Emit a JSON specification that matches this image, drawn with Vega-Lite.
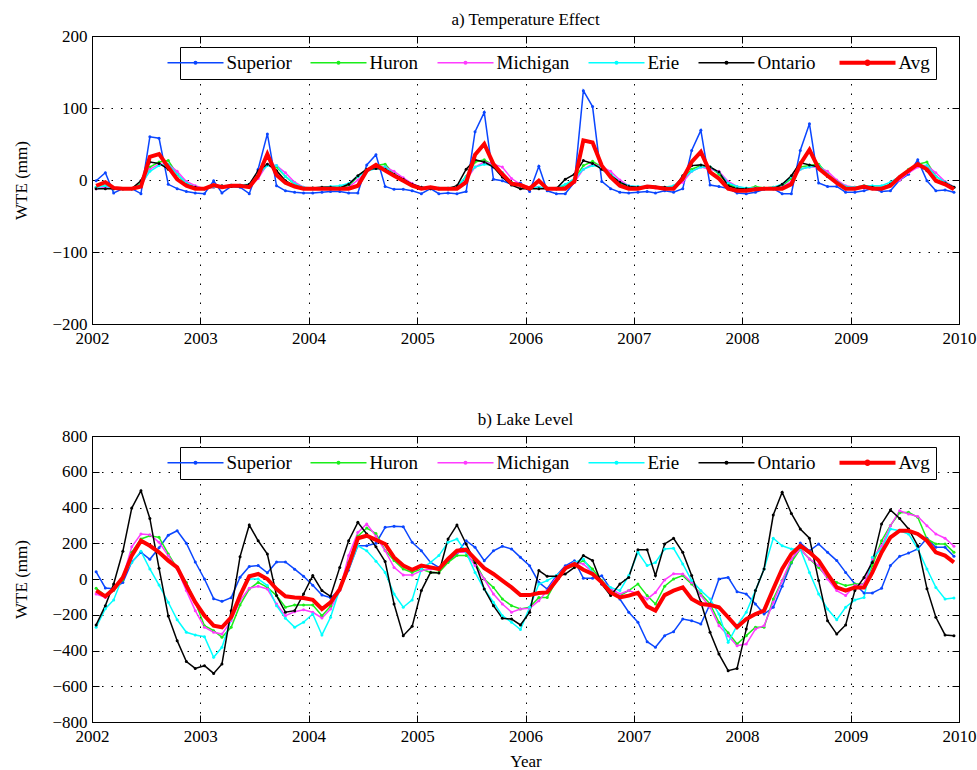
{
"$schema": "https://vega.github.io/schema/vega-lite/v6.json",
"background": "white",
"padding": {"left": 12, "top": 10, "right": 22, "bottom": 3},
"spacing": 63,
"datasets": {
"temp": [
{"d":"2002-01-15","Superior":-1,"Huron":-10,"Michigan":-12,"Erie":-10,"Ontario":-12,"Avg":-8},
{"d":"2002-02-15","Superior":10,"Huron":-8,"Michigan":-10,"Erie":-8,"Ontario":-12,"Avg":-3},
{"d":"2002-03-15","Superior":-18,"Huron":-12,"Michigan":-12,"Erie":-12,"Ontario":-12,"Avg":-11},
{"d":"2002-04-15","Superior":-12,"Huron":-12,"Michigan":-12,"Erie":-12,"Ontario":-12,"Avg":-12},
{"d":"2002-05-15","Superior":-12,"Huron":-12,"Michigan":-12,"Erie":-12,"Ontario":-12,"Avg":-12},
{"d":"2002-06-15","Superior":-19,"Huron":-5,"Michigan":-9,"Erie":-6,"Ontario":-1,"Avg":-9},
{"d":"2002-07-15","Superior":60,"Huron":18,"Michigan":15,"Erie":12,"Ontario":25,"Avg":32},
{"d":"2002-08-15","Superior":58,"Huron":25,"Michigan":22,"Erie":20,"Ontario":23,"Avg":36},
{"d":"2002-09-15","Superior":-6,"Huron":27,"Michigan":22,"Erie":22,"Ontario":15,"Avg":18},
{"d":"2002-10-15","Superior":-12,"Huron":8,"Michigan":12,"Erie":8,"Ontario":2,"Avg":1},
{"d":"2002-11-15","Superior":-16,"Huron":-5,"Michigan":-2,"Erie":-4,"Ontario":-7,"Avg":-8},
{"d":"2002-12-15","Superior":-18,"Huron":-10,"Michigan":-8,"Erie":-10,"Ontario":-10,"Avg":-12},
{"d":"2003-01-15","Superior":-19,"Huron":-12,"Michigan":-12,"Erie":-12,"Ontario":-12,"Avg":-12},
{"d":"2003-02-15","Superior":-1,"Huron":-10,"Michigan":-10,"Erie":-9,"Ontario":-8,"Avg":-7},
{"d":"2003-03-15","Superior":-18,"Huron":-9,"Michigan":-10,"Erie":-9,"Ontario":-8,"Avg":-10},
{"d":"2003-04-15","Superior":-9,"Huron":-8,"Michigan":-8,"Erie":-7,"Ontario":-9,"Avg":-8},
{"d":"2003-05-15","Superior":-10,"Huron":-9,"Michigan":-8,"Erie":-7,"Ontario":-9,"Avg":-8},
{"d":"2003-06-15","Superior":-19,"Huron":-8,"Michigan":-10,"Erie":-6,"Ontario":-6,"Avg":-10},
{"d":"2003-07-15","Superior":15,"Huron":8,"Michigan":2,"Erie":8,"Ontario":13,"Avg":6},
{"d":"2003-08-15","Superior":64,"Huron":22,"Michigan":22,"Erie":20,"Ontario":22,"Avg":36},
{"d":"2003-09-15","Superior":-8,"Huron":18,"Michigan":20,"Erie":20,"Ontario":13,"Avg":7},
{"d":"2003-10-15","Superior":-15,"Huron":5,"Michigan":10,"Erie":5,"Ontario":-1,"Avg":-4},
{"d":"2003-11-15","Superior":-17,"Huron":-6,"Michigan":-3,"Erie":-5,"Ontario":-9,"Avg":-9},
{"d":"2003-12-15","Superior":-18,"Huron":-11,"Michigan":-10,"Erie":-10,"Ontario":-12,"Avg":-12},
{"d":"2004-01-15","Superior":-18,"Huron":-12,"Michigan":-12,"Erie":-11,"Ontario":-11,"Avg":-12},
{"d":"2004-02-15","Superior":-17,"Huron":-11,"Michigan":-12,"Erie":-10,"Ontario":-10,"Avg":-12},
{"d":"2004-03-15","Superior":-16,"Huron":-10,"Michigan":-11,"Erie":-9,"Ontario":-10,"Avg":-12},
{"d":"2004-04-15","Superior":-16,"Huron":-10,"Michigan":-11,"Erie":-8,"Ontario":-11,"Avg":-12},
{"d":"2004-05-15","Superior":-18,"Huron":-8,"Michigan":-10,"Erie":-5,"Ontario":-6,"Avg":-12},
{"d":"2004-06-15","Superior":-18,"Huron":5,"Michigan":0,"Erie":5,"Ontario":6,"Avg":-8},
{"d":"2004-07-15","Superior":21,"Huron":15,"Michigan":12,"Erie":12,"Ontario":15,"Avg":13},
{"d":"2004-08-15","Superior":35,"Huron":20,"Michigan":18,"Erie":16,"Ontario":16,"Avg":21},
{"d":"2004-09-15","Superior":-9,"Huron":22,"Michigan":18,"Erie":18,"Ontario":15,"Avg":13},
{"d":"2004-10-15","Superior":-13,"Huron":8,"Michigan":12,"Erie":8,"Ontario":8,"Avg":6},
{"d":"2004-11-15","Superior":-13,"Huron":0,"Michigan":3,"Erie":0,"Ontario":1,"Avg":-1},
{"d":"2004-12-15","Superior":-15,"Huron":-7,"Michigan":-5,"Erie":-7,"Ontario":-6,"Avg":-8},
{"d":"2005-01-15","Superior":-19,"Huron":-11,"Michigan":-10,"Erie":-10,"Ontario":-10,"Avg":-12},
{"d":"2005-02-15","Superior":-12,"Huron":-10,"Michigan":-11,"Erie":-11,"Ontario":-12,"Avg":-10},
{"d":"2005-03-15","Superior":-19,"Huron":-12,"Michigan":-12,"Erie":-11,"Ontario":-12,"Avg":-12},
{"d":"2005-04-15","Superior":-18,"Huron":-12,"Michigan":-12,"Erie":-11,"Ontario":-12,"Avg":-12},
{"d":"2005-05-15","Superior":-19,"Huron":-10,"Michigan":-10,"Erie":-9,"Ontario":-8,"Avg":-12},
{"d":"2005-06-15","Superior":-16,"Huron":5,"Michigan":0,"Erie":5,"Ontario":15,"Avg":-3},
{"d":"2005-07-15","Superior":67,"Huron":25,"Michigan":18,"Erie":18,"Ontario":28,"Avg":35},
{"d":"2005-08-15","Superior":94,"Huron":28,"Michigan":25,"Erie":22,"Ontario":25,"Avg":50},
{"d":"2005-09-15","Superior":1,"Huron":20,"Michigan":22,"Erie":20,"Ontario":18,"Avg":22},
{"d":"2005-10-15","Superior":-1,"Huron":10,"Michigan":18,"Erie":10,"Ontario":4,"Avg":8},
{"d":"2005-11-15","Superior":-6,"Huron":-3,"Michigan":2,"Erie":-4,"Ontario":-7,"Avg":-5},
{"d":"2005-12-15","Superior":-4,"Huron":-8,"Michigan":-6,"Erie":-8,"Ontario":-12,"Avg":-7},
{"d":"2006-01-15","Superior":-16,"Huron":-11,"Michigan":-10,"Erie":-11,"Ontario":-12,"Avg":-12},
{"d":"2006-02-15","Superior":19,"Huron":-10,"Michigan":-10,"Erie":-10,"Ontario":-12,"Avg":-1},
{"d":"2006-03-15","Superior":-15,"Huron":-12,"Michigan":-12,"Erie":-11,"Ontario":-12,"Avg":-12},
{"d":"2006-04-15","Superior":-19,"Huron":-12,"Michigan":-12,"Erie":-11,"Ontario":-12,"Avg":-12},
{"d":"2006-05-15","Superior":-19,"Huron":-8,"Michigan":-10,"Erie":-6,"Ontario":1,"Avg":-12},
{"d":"2006-06-15","Superior":-3,"Huron":2,"Michigan":-3,"Erie":2,"Ontario":8,"Avg":-2},
{"d":"2006-07-15","Superior":124,"Huron":20,"Michigan":15,"Erie":15,"Ontario":27,"Avg":55},
{"d":"2006-08-15","Superior":102,"Huron":26,"Michigan":22,"Erie":20,"Ontario":23,"Avg":52},
{"d":"2006-09-15","Superior":-2,"Huron":18,"Michigan":18,"Erie":18,"Ontario":15,"Avg":20},
{"d":"2006-10-15","Superior":-12,"Huron":8,"Michigan":12,"Erie":8,"Ontario":6,"Avg":4},
{"d":"2006-11-15","Superior":-17,"Huron":-4,"Michigan":0,"Erie":-3,"Ontario":-3,"Avg":-8},
{"d":"2006-12-15","Superior":-18,"Huron":-9,"Michigan":-8,"Erie":-8,"Ontario":-9,"Avg":-12},
{"d":"2007-01-15","Superior":-17,"Huron":-11,"Michigan":-10,"Erie":-9,"Ontario":-10,"Avg":-12},
{"d":"2007-02-15","Superior":-16,"Huron":-10,"Michigan":-10,"Erie":-9,"Ontario":-10,"Avg":-9},
{"d":"2007-03-15","Superior":-18,"Huron":-10,"Michigan":-11,"Erie":-9,"Ontario":-10,"Avg":-10},
{"d":"2007-04-15","Superior":-15,"Huron":-11,"Michigan":-11,"Erie":-10,"Ontario":-10,"Avg":-12},
{"d":"2007-05-15","Superior":-17,"Huron":-10,"Michigan":-10,"Erie":-8,"Ontario":-12,"Avg":-12},
{"d":"2007-06-15","Superior":-12,"Huron":0,"Michigan":-3,"Erie":2,"Ontario":6,"Avg":2},
{"d":"2007-07-15","Superior":41,"Huron":15,"Michigan":12,"Erie":12,"Ontario":20,"Avg":25},
{"d":"2007-08-15","Superior":69,"Huron":20,"Michigan":18,"Erie":18,"Ontario":21,"Avg":39},
{"d":"2007-09-15","Superior":-7,"Huron":18,"Michigan":15,"Erie":18,"Ontario":18,"Avg":11},
{"d":"2007-10-15","Superior":-9,"Huron":8,"Michigan":12,"Erie":10,"Ontario":11,"Avg":2},
{"d":"2007-11-15","Superior":-12,"Huron":-6,"Michigan":-2,"Erie":-4,"Ontario":-8,"Avg":-12},
{"d":"2007-12-15","Superior":-18,"Huron":-10,"Michigan":-9,"Erie":-9,"Ontario":-12,"Avg":-15},
{"d":"2008-01-15","Superior":-19,"Huron":-12,"Michigan":-12,"Erie":-11,"Ontario":-12,"Avg":-15},
{"d":"2008-02-15","Superior":-17,"Huron":-9,"Michigan":-11,"Erie":-11,"Ontario":-12,"Avg":-13},
{"d":"2008-03-15","Superior":-13,"Huron":-11,"Michigan":-12,"Erie":-11,"Ontario":-12,"Avg":-12},
{"d":"2008-04-15","Superior":-12,"Huron":-10,"Michigan":-11,"Erie":-10,"Ontario":-12,"Avg":-12},
{"d":"2008-05-15","Superior":-19,"Huron":-8,"Michigan":-10,"Erie":-6,"Ontario":-6,"Avg":-12},
{"d":"2008-06-15","Superior":-19,"Huron":2,"Michigan":-2,"Erie":4,"Ontario":6,"Avg":-6},
{"d":"2008-07-15","Superior":41,"Huron":18,"Michigan":15,"Erie":15,"Ontario":24,"Avg":22},
{"d":"2008-08-15","Superior":78,"Huron":20,"Michigan":18,"Erie":18,"Ontario":21,"Avg":42},
{"d":"2008-09-15","Superior":-4,"Huron":22,"Michigan":18,"Erie":20,"Ontario":18,"Avg":16},
{"d":"2008-10-15","Superior":-9,"Huron":8,"Michigan":12,"Erie":8,"Ontario":5,"Avg":6},
{"d":"2008-11-15","Superior":-9,"Huron":-2,"Michigan":0,"Erie":-2,"Ontario":-4,"Avg":-4},
{"d":"2008-12-15","Superior":-17,"Huron":-9,"Michigan":-8,"Erie":-9,"Ontario":-12,"Avg":-12},
{"d":"2009-01-15","Superior":-17,"Huron":-10,"Michigan":-10,"Erie":-10,"Ontario":-12,"Avg":-12},
{"d":"2009-02-15","Superior":-15,"Huron":-8,"Michigan":-11,"Erie":-8,"Ontario":-10,"Avg":-9},
{"d":"2009-03-15","Superior":-12,"Huron":-10,"Michigan":-11,"Erie":-8,"Ontario":-10,"Avg":-12},
{"d":"2009-04-15","Superior":-16,"Huron":-10,"Michigan":-10,"Erie":-8,"Ontario":-12,"Avg":-12},
{"d":"2009-05-15","Superior":-15,"Huron":-6,"Michigan":-8,"Erie":-3,"Ontario":-6,"Avg":-8},
{"d":"2009-06-15","Superior":0,"Huron":3,"Michigan":0,"Erie":5,"Ontario":4,"Avg":4},
{"d":"2009-07-15","Superior":8,"Huron":15,"Michigan":10,"Erie":14,"Ontario":13,"Avg":13},
{"d":"2009-08-15","Superior":28,"Huron":22,"Michigan":18,"Erie":20,"Ontario":22,"Avg":22},
{"d":"2009-09-15","Superior":-1,"Huron":25,"Michigan":20,"Erie":20,"Ontario":13,"Avg":15},
{"d":"2009-10-15","Superior":-15,"Huron":5,"Michigan":10,"Erie":5,"Ontario":-1,"Avg":-1},
{"d":"2009-11-15","Superior":-14,"Huron":-3,"Michigan":-2,"Erie":-3,"Ontario":-4,"Avg":-6},
{"d":"2009-12-15","Superior":-17,"Huron":-10,"Michigan":-10,"Erie":-10,"Ontario":-10,"Avg":-13}
],
"lake": [
{"d":"2002-01-15","Superior":40,"Huron":-52,"Michigan":-84,"Erie":-270,"Ontario":-257,"Avg":-65},
{"d":"2002-02-15","Superior":-50,"Huron":-93,"Michigan":-103,"Erie":-166,"Ontario":-149,"Avg":-97},
{"d":"2002-03-15","Superior":-55,"Huron":-65,"Michigan":-62,"Erie":-117,"Ontario":-28,"Avg":-56},
{"d":"2002-04-15","Superior":-20,"Huron":-5,"Michigan":9,"Erie":14,"Ontario":155,"Avg":9},
{"d":"2002-05-15","Superior":95,"Huron":149,"Michigan":180,"Erie":93,"Ontario":397,"Avg":131},
{"d":"2002-06-15","Superior":150,"Huron":224,"Michigan":252,"Erie":155,"Ontario":494,"Avg":214},
{"d":"2002-07-15","Superior":110,"Huron":242,"Michigan":248,"Erie":56,"Ontario":339,"Avg":186},
{"d":"2002-08-15","Superior":175,"Huron":233,"Michigan":205,"Erie":-34,"Ontario":60,"Avg":149},
{"d":"2002-09-15","Superior":245,"Huron":140,"Michigan":131,"Erie":-130,"Ontario":-207,"Avg":103},
{"d":"2002-10-15","Superior":270,"Huron":60,"Michigan":56,"Erie":-228,"Ontario":-345,"Avg":65},
{"d":"2002-11-15","Superior":200,"Huron":-19,"Michigan":-65,"Erie":-298,"Ontario":-462,"Avg":-37},
{"d":"2002-12-15","Superior":95,"Huron":-130,"Michigan":-177,"Erie":-313,"Ontario":-500,"Avg":-130},
{"d":"2003-01-15","Superior":0,"Huron":-261,"Michigan":-270,"Erie":-323,"Ontario":-485,"Avg":-205},
{"d":"2003-02-15","Superior":-110,"Huron":-289,"Michigan":-298,"Erie":-438,"Ontario":-528,"Avg":-261},
{"d":"2003-03-15","Superior":-125,"Huron":-326,"Michigan":-308,"Erie":-382,"Ontario":-475,"Avg":-270},
{"d":"2003-04-15","Superior":-105,"Huron":-270,"Michigan":-233,"Erie":-224,"Ontario":-177,"Avg":-214},
{"d":"2003-05-15","Superior":10,"Huron":-145,"Michigan":-121,"Erie":-84,"Ontario":125,"Avg":-93},
{"d":"2003-06-15","Superior":70,"Huron":-56,"Michigan":-52,"Erie":0,"Ontario":302,"Avg":15},
{"d":"2003-07-15","Superior":75,"Huron":-19,"Michigan":-41,"Erie":0,"Ontario":214,"Avg":28},
{"d":"2003-08-15","Superior":35,"Huron":-47,"Michigan":-56,"Erie":-37,"Ontario":140,"Avg":0},
{"d":"2003-09-15","Superior":95,"Huron":-93,"Michigan":-140,"Erie":-149,"Ontario":-93,"Avg":-56},
{"d":"2003-10-15","Superior":95,"Huron":-158,"Michigan":-205,"Erie":-220,"Ontario":-186,"Avg":-97},
{"d":"2003-11-15","Superior":55,"Huron":-145,"Michigan":-183,"Erie":-270,"Ontario":-177,"Avg":-103},
{"d":"2003-12-15","Superior":15,"Huron":-145,"Michigan":-172,"Erie":-242,"Ontario":-84,"Avg":-106},
{"d":"2004-01-15","Superior":-35,"Huron":-145,"Michigan":-186,"Erie":-196,"Ontario":19,"Avg":-116},
{"d":"2004-02-15","Superior":-90,"Huron":-205,"Michigan":-218,"Erie":-313,"Ontario":-65,"Avg":-168},
{"d":"2004-03-15","Superior":-105,"Huron":-153,"Michigan":-168,"Erie":-214,"Ontario":-97,"Avg":-131},
{"d":"2004-04-15","Superior":-60,"Huron":-65,"Michigan":-65,"Erie":-56,"Ontario":65,"Avg":-56},
{"d":"2004-05-15","Superior":50,"Huron":93,"Michigan":131,"Erie":56,"Ontario":214,"Avg":75},
{"d":"2004-06-15","Superior":186,"Huron":240,"Michigan":261,"Erie":186,"Ontario":317,"Avg":228},
{"d":"2004-07-15","Superior":186,"Huron":285,"Michigan":308,"Erie":158,"Ontario":252,"Avg":242},
{"d":"2004-08-15","Superior":200,"Huron":255,"Michigan":240,"Erie":100,"Ontario":180,"Avg":219},
{"d":"2004-09-15","Superior":289,"Huron":160,"Michigan":158,"Erie":37,"Ontario":98,"Avg":196},
{"d":"2004-10-15","Superior":295,"Huron":103,"Michigan":65,"Erie":-84,"Ontario":-140,"Avg":121},
{"d":"2004-11-15","Superior":293,"Huron":56,"Michigan":22,"Erie":-158,"Ontario":-317,"Avg":75},
{"d":"2004-12-15","Superior":205,"Huron":37,"Michigan":22,"Erie":-117,"Ontario":-265,"Avg":52},
{"d":"2005-01-15","Superior":158,"Huron":56,"Michigan":47,"Erie":56,"Ontario":-65,"Avg":75},
{"d":"2005-02-15","Superior":93,"Huron":37,"Michigan":56,"Erie":93,"Ontario":37,"Avg":65},
{"d":"2005-03-15","Superior":65,"Huron":37,"Michigan":56,"Erie":131,"Ontario":34,"Avg":56},
{"d":"2005-04-15","Superior":100,"Huron":93,"Michigan":112,"Erie":205,"Ontario":224,"Avg":112},
{"d":"2005-05-15","Superior":144,"Huron":131,"Michigan":149,"Erie":224,"Ontario":302,"Avg":158},
{"d":"2005-06-15","Superior":214,"Huron":131,"Michigan":149,"Erie":149,"Ontario":196,"Avg":164},
{"d":"2005-07-15","Superior":177,"Huron":93,"Michigan":75,"Erie":37,"Ontario":93,"Avg":112},
{"d":"2005-08-15","Superior":102,"Huron":0,"Michigan":0,"Erie":-56,"Ontario":-56,"Avg":60},
{"d":"2005-09-15","Superior":158,"Huron":-47,"Michigan":-84,"Erie":-130,"Ontario":-149,"Avg":28},
{"d":"2005-10-15","Superior":183,"Huron":-112,"Michigan":-140,"Erie":-205,"Ontario":-220,"Avg":-9},
{"d":"2005-11-15","Superior":168,"Huron":-149,"Michigan":-186,"Erie":-242,"Ontario":-224,"Avg":-47},
{"d":"2005-12-15","Superior":121,"Huron":-168,"Michigan":-168,"Erie":-283,"Ontario":-257,"Avg":-90},
{"d":"2006-01-15","Superior":74,"Huron":-158,"Michigan":-164,"Erie":-158,"Ontario":-186,"Avg":-90},
{"d":"2006-02-15","Superior":-19,"Huron":-103,"Michigan":-121,"Erie":-28,"Ontario":47,"Avg":-78},
{"d":"2006-03-15","Superior":-56,"Huron":-103,"Michigan":-65,"Erie":-9,"Ontario":15,"Avg":-75},
{"d":"2006-04-15","Superior":18,"Huron":-9,"Michigan":9,"Erie":19,"Ontario":15,"Avg":-9},
{"d":"2006-05-15","Superior":74,"Huron":56,"Michigan":65,"Erie":56,"Ontario":28,"Avg":60},
{"d":"2006-06-15","Superior":102,"Huron":75,"Michigan":93,"Erie":93,"Ontario":65,"Avg":84},
{"d":"2006-07-15","Superior":4,"Huron":103,"Michigan":84,"Erie":112,"Ontario":131,"Avg":52},
{"d":"2006-08-15","Superior":4,"Huron":56,"Michigan":37,"Erie":37,"Ontario":103,"Avg":28},
{"d":"2006-09-15","Superior":18,"Huron":-9,"Michigan":-28,"Erie":-19,"Ontario":-28,"Avg":-19},
{"d":"2006-10-15","Superior":-56,"Huron":-65,"Michigan":-56,"Erie":-47,"Ontario":-93,"Avg":-75},
{"d":"2006-11-15","Superior":-112,"Huron":-93,"Michigan":-84,"Erie":-65,"Ontario":-28,"Avg":-103},
{"d":"2006-12-15","Superior":-186,"Huron":-65,"Michigan":-65,"Erie":19,"Ontario":9,"Avg":-93},
{"d":"2007-01-15","Superior":-242,"Huron":-28,"Michigan":-84,"Erie":149,"Ontario":164,"Avg":-78},
{"d":"2007-02-15","Superior":-351,"Huron":-93,"Michigan":-112,"Erie":75,"Ontario":164,"Avg":-153},
{"d":"2007-03-15","Superior":-382,"Huron":-140,"Michigan":-75,"Erie":93,"Ontario":19,"Avg":-177},
{"d":"2007-04-15","Superior":-317,"Huron":-40,"Michigan":-5,"Erie":168,"Ontario":196,"Avg":-90},
{"d":"2007-05-15","Superior":-295,"Huron":0,"Michigan":30,"Erie":172,"Ontario":228,"Avg":-65},
{"d":"2007-06-15","Superior":-224,"Huron":19,"Michigan":28,"Erie":84,"Ontario":149,"Avg":-47},
{"d":"2007-07-15","Superior":-233,"Huron":-28,"Michigan":-19,"Erie":-9,"Ontario":19,"Avg":-112},
{"d":"2007-08-15","Superior":-252,"Huron":-84,"Michigan":-93,"Erie":-65,"Ontario":-130,"Avg":-140},
{"d":"2007-09-15","Superior":-140,"Huron":-140,"Michigan":-158,"Erie":-112,"Ontario":-298,"Avg":-145},
{"d":"2007-10-15","Superior":0,"Huron":-242,"Michigan":-261,"Erie":-196,"Ontario":-420,"Avg":-158},
{"d":"2007-11-15","Superior":9,"Huron":-300,"Michigan":-317,"Erie":-354,"Ontario":-513,"Avg":-214},
{"d":"2007-12-15","Superior":-71,"Huron":-364,"Michigan":-373,"Erie":-261,"Ontario":-500,"Avg":-270},
{"d":"2008-01-15","Superior":-84,"Huron":-317,"Michigan":-364,"Erie":-186,"Ontario":-280,"Avg":-224},
{"d":"2008-02-15","Superior":-140,"Huron":-270,"Michigan":-280,"Erie":-65,"Ontario":-65,"Avg":-196},
{"d":"2008-03-15","Superior":-196,"Huron":-270,"Michigan":-261,"Erie":56,"Ontario":56,"Avg":-177},
{"d":"2008-04-15","Superior":-158,"Huron":-112,"Michigan":-130,"Erie":228,"Ontario":358,"Avg":-56},
{"d":"2008-05-15","Superior":-40,"Huron":-9,"Michigan":-10,"Erie":186,"Ontario":485,"Avg":56},
{"d":"2008-06-15","Superior":90,"Huron":93,"Michigan":112,"Erie":168,"Ontario":367,"Avg":140},
{"d":"2008-07-15","Superior":201,"Huron":168,"Michigan":168,"Erie":168,"Ontario":280,"Avg":186},
{"d":"2008-08-15","Superior":158,"Huron":112,"Michigan":112,"Erie":37,"Ontario":228,"Avg":149},
{"d":"2008-09-15","Superior":196,"Huron":65,"Michigan":75,"Erie":-84,"Ontario":-9,"Avg":103},
{"d":"2008-10-15","Superior":149,"Huron":9,"Michigan":0,"Erie":-168,"Ontario":-233,"Avg":28},
{"d":"2008-11-15","Superior":103,"Huron":-19,"Michigan":-65,"Erie":-228,"Ontario":-308,"Avg":-47},
{"d":"2008-12-15","Superior":37,"Huron":-37,"Michigan":-93,"Erie":-158,"Ontario":-257,"Avg":-65},
{"d":"2009-01-15","Superior":-28,"Huron":-28,"Michigan":-37,"Erie":-117,"Ontario":-65,"Avg":-47},
{"d":"2009-02-15","Superior":-78,"Huron":-28,"Michigan":-28,"Erie":-103,"Ontario":9,"Avg":-47},
{"d":"2009-03-15","Superior":-78,"Huron":75,"Michigan":112,"Erie":121,"Ontario":93,"Avg":37},
{"d":"2009-04-15","Superior":-52,"Huron":214,"Michigan":186,"Erie":168,"Ontario":308,"Avg":149},
{"d":"2009-05-15","Superior":75,"Huron":300,"Michigan":298,"Erie":280,"Ontario":386,"Avg":233},
{"d":"2009-06-15","Superior":127,"Huron":370,"Michigan":382,"Erie":270,"Ontario":339,"Avg":270},
{"d":"2009-07-15","Superior":145,"Huron":373,"Michigan":364,"Erie":252,"Ontario":280,"Avg":270},
{"d":"2009-08-15","Superior":168,"Huron":345,"Michigan":350,"Erie":168,"Ontario":186,"Avg":252},
{"d":"2009-09-15","Superior":228,"Huron":224,"Michigan":298,"Erie":56,"Ontario":-54,"Avg":214},
{"d":"2009-10-15","Superior":177,"Huron":196,"Michigan":252,"Erie":-47,"Ontario":-214,"Avg":149},
{"d":"2009-11-15","Superior":177,"Huron":196,"Michigan":228,"Erie":-112,"Ontario":-313,"Avg":131},
{"d":"2009-12-15","Superior":127,"Huron":149,"Michigan":183,"Erie":-106,"Ontario":-317,"Avg":93}
]
},
"config": {
"font": "Liberation Serif",
"view": {"stroke": "black", "strokeWidth": 1},
"title": {"font": "Liberation Serif", "fontSize": 17, "fontWeight": "normal", "color": "black", "offset": -2},
"axis": {"labelFont": "Liberation Serif", "labelFontSize": 17, "labelColor": "black", "titleFont": "Liberation Serif", "titleFontSize": 17, "titleFontWeight": "normal", "titleColor": "black", "domainColor": "black", "domainWidth": 1, "tickColor": "black", "tickSize": -7, "tickWidth": 1, "gridColor": "black", "gridOpacity": 1, "gridDash": [1.5, 8], "gridWidth": 1, "labelFlush": false, "labelOverlap": false},
"axisX": {"labelPadding": 13},
"axisY": {"labelPadding": 12},
"legend": {"title": null, "orient": "none", "legendX": 88, "legendY": 11, "direction": "horizontal", "columns": 6, "symbolType": "M-1,0H1M-0.045,0A0.045,0.045,0,1,0,0.045,0A0.045,0.045,0,1,0,-0.045,0Z", "symbolSize": 3136, "symbolStrokeWidth": 1.5, "symbolOffset": 0, "labelFontSize": 19, "labelFont": "Liberation Serif", "labelColor": "black", "labelOffset": 21.5, "columnPadding": 15, "padding": 6, "strokeColor": "black", "fillColor": "white"}
},
"resolve": {"legend": {"color": "independent"}},
"vconcat": [
{
"title": "a) Temperature Effect",
"width": 867, "height": 288,
"data": {"name": "temp"},
"transform": [{"fold": ["Superior","Huron","Michigan","Erie","Ontario","Avg"], "as": ["lake","wte"]}],
"layer": [
{"transform": [{"filter": "datum.lake !== 'Avg'"}],
"mark": {"type": "line", "strokeWidth": 1.5},
"encoding": {
"x": {"field": "d", "type": "temporal", "scale": {"type": "utc", "domain": [{"year":2002,"month":1,"date":1,"utc":true},{"year":2010,"month":1,"date":1,"utc":true}]}, "axis": {"orient": "bottom", "title": null, "format": "%Y", "grid": true, "values": [{"year":2002,"month":1,"date":1,"utc":true},{"year":2003,"month":1,"date":1,"utc":true},{"year":2004,"month":1,"date":1,"utc":true},{"year":2005,"month":1,"date":1,"utc":true},{"year":2006,"month":1,"date":1,"utc":true},{"year":2007,"month":1,"date":1,"utc":true},{"year":2008,"month":1,"date":1,"utc":true},{"year":2009,"month":1,"date":1,"utc":true},{"year":2010,"month":1,"date":1,"utc":true}]}},
"y": {"field": "wte", "type": "quantitative", "scale": {"domain": [-200, 200], "nice": false}, "axis": {"orient": "left", "title": "WTE (mm)", "values": [-200,-100,0,100,200], "grid": true, "titlePadding": 21}},
"color": {"field": "lake", "type": "nominal", "scale": {"domain": ["Superior","Huron","Michigan","Erie","Ontario","Avg"], "range": ["#0a46ff","#1aee1a","#ff3cff","#00ffff","#000000","#ff0000"]},
"legend": {"encode": {"symbols": {"update": {"fill": {"signal": "datum.value === 'Superior' ? '#0a46ff' : datum.value === 'Huron' ? '#1aee1a' : datum.value === 'Michigan' ? '#ff3cff' : datum.value === 'Erie' ? '#00ffff' : datum.value === 'Ontario' ? '#000000' : '#ff0000'"}, "strokeWidth": {"signal": "datum.value === 'Avg' ? 4 : 1.5"}, "opacity": {"value": 1}}}}}}
}},
{"transform": [{"filter": "datum.lake !== 'Avg'"}],
"mark": {"type": "point", "filled": true, "size": 9, "opacity": 1},
"encoding": {
"x": {"field": "d", "type": "temporal", "axis": {"orient": "top", "title": null, "labels": false, "grid": false, "domain": false, "values": [{"year":2003,"month":1,"date":1,"utc":true},{"year":2004,"month":1,"date":1,"utc":true},{"year":2005,"month":1,"date":1,"utc":true},{"year":2006,"month":1,"date":1,"utc":true},{"year":2007,"month":1,"date":1,"utc":true},{"year":2008,"month":1,"date":1,"utc":true},{"year":2009,"month":1,"date":1,"utc":true}]}},
"y": {"field": "wte", "type": "quantitative", "axis": {"orient": "right", "title": null, "labels": false, "grid": false, "domain": false, "values": [-100,0,100]}},
"color": {"field": "lake", "type": "nominal"}
}},
{"transform": [{"filter": "datum.lake === 'Avg'"}],
"mark": {"type": "line", "strokeWidth": 4},
"encoding": {
"x": {"field": "d", "type": "temporal", "axis": null},
"y": {"field": "wte", "type": "quantitative", "axis": null},
"color": {"field": "lake", "type": "nominal"}
}}
],
"resolve": {"axis": {"x": "independent", "y": "independent"}}
},
{
"title": "b) Lake Level",
"width": 867, "height": 286,
"data": {"name": "lake"},
"transform": [{"fold": ["Superior","Huron","Michigan","Erie","Ontario","Avg"], "as": ["lake","wte"]}],
"layer": [
{"transform": [{"filter": "datum.lake !== 'Avg'"}],
"mark": {"type": "line", "strokeWidth": 1.5},
"encoding": {
"x": {"field": "d", "type": "temporal", "scale": {"type": "utc", "domain": [{"year":2002,"month":1,"date":1,"utc":true},{"year":2010,"month":1,"date":1,"utc":true}]}, "axis": {"orient": "bottom", "title": "Year", "titlePadding": 9, "format": "%Y", "grid": true, "values": [{"year":2002,"month":1,"date":1,"utc":true},{"year":2003,"month":1,"date":1,"utc":true},{"year":2004,"month":1,"date":1,"utc":true},{"year":2005,"month":1,"date":1,"utc":true},{"year":2006,"month":1,"date":1,"utc":true},{"year":2007,"month":1,"date":1,"utc":true},{"year":2008,"month":1,"date":1,"utc":true},{"year":2009,"month":1,"date":1,"utc":true},{"year":2010,"month":1,"date":1,"utc":true}]}},
"y": {"field": "wte", "type": "quantitative", "scale": {"domain": [-800, 800], "nice": false}, "axis": {"orient": "left", "title": "WTE (mm)", "values": [-800,-600,-400,-200,0,200,400,600,800], "grid": true, "titlePadding": 21}},
"color": {"field": "lake", "type": "nominal", "scale": {"domain": ["Superior","Huron","Michigan","Erie","Ontario","Avg"], "range": ["#0a46ff","#1aee1a","#ff3cff","#00ffff","#000000","#ff0000"]},
"legend": {"encode": {"symbols": {"update": {"fill": {"signal": "datum.value === 'Superior' ? '#0a46ff' : datum.value === 'Huron' ? '#1aee1a' : datum.value === 'Michigan' ? '#ff3cff' : datum.value === 'Erie' ? '#00ffff' : datum.value === 'Ontario' ? '#000000' : '#ff0000'"}, "strokeWidth": {"signal": "datum.value === 'Avg' ? 4 : 1.5"}, "opacity": {"value": 1}}}}}}
}},
{"transform": [{"filter": "datum.lake !== 'Avg'"}],
"mark": {"type": "point", "filled": true, "size": 9, "opacity": 1},
"encoding": {
"x": {"field": "d", "type": "temporal", "axis": {"orient": "top", "title": null, "labels": false, "grid": false, "domain": false, "values": [{"year":2003,"month":1,"date":1,"utc":true},{"year":2004,"month":1,"date":1,"utc":true},{"year":2005,"month":1,"date":1,"utc":true},{"year":2006,"month":1,"date":1,"utc":true},{"year":2007,"month":1,"date":1,"utc":true},{"year":2008,"month":1,"date":1,"utc":true},{"year":2009,"month":1,"date":1,"utc":true}]}},
"y": {"field": "wte", "type": "quantitative", "axis": {"orient": "right", "title": null, "labels": false, "grid": false, "domain": false, "values": [-600,-400,-200,0,200,400,600]}},
"color": {"field": "lake", "type": "nominal"}
}},
{"transform": [{"filter": "datum.lake === 'Avg'"}],
"mark": {"type": "line", "strokeWidth": 4},
"encoding": {
"x": {"field": "d", "type": "temporal", "axis": null},
"y": {"field": "wte", "type": "quantitative", "axis": null},
"color": {"field": "lake", "type": "nominal"}
}}
],
"resolve": {"axis": {"x": "independent", "y": "independent"}}
}
]
}
